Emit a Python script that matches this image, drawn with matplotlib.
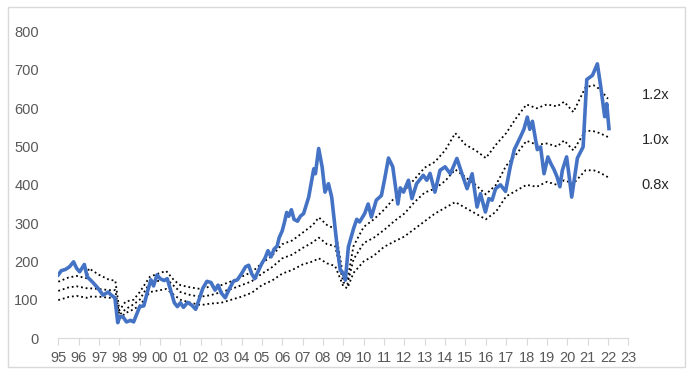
import matplotlib.pyplot as plt
from matplotlib.patches import Rectangle

# price series (x = year)
price_years = [
    1995.00, 1995.15, 1995.35, 1995.55, 1995.75, 1995.90, 1996.05, 1996.28, 1996.42, 1996.70,
    1996.95, 1997.20, 1997.45, 1997.60, 1997.78, 1997.92, 1998.02, 1998.18, 1998.35, 1998.55,
    1998.70, 1998.85, 1999.00, 1999.20, 1999.40, 1999.55, 1999.68, 1999.85, 2000.00, 2000.20,
    2000.35, 2000.50, 2000.70, 2000.85, 2001.00, 2001.15, 2001.35, 2001.55, 2001.75, 2001.90,
    2002.10, 2002.30, 2002.50, 2002.70, 2002.85, 2003.00, 2003.20, 2003.40, 2003.60, 2003.80,
    2004.00, 2004.20, 2004.35, 2004.50, 2004.65, 2004.85, 2005.00, 2005.15, 2005.30, 2005.45,
    2005.60, 2005.75, 2005.85, 2006.00, 2006.10, 2006.22, 2006.32, 2006.45, 2006.58, 2006.75,
    2006.89, 2007.05, 2007.30, 2007.55, 2007.63, 2007.79, 2007.96, 2008.10, 2008.27, 2008.43,
    2008.68, 2008.85, 2009.00, 2009.10, 2009.25, 2009.50, 2009.66, 2009.80, 2010.05, 2010.22,
    2010.38, 2010.62, 2010.87, 2011.03, 2011.22, 2011.43, 2011.68, 2011.80, 2011.96, 2012.20,
    2012.37, 2012.60, 2012.93, 2013.10, 2013.26, 2013.50, 2013.75, 2014.00, 2014.26, 2014.58,
    2014.83, 2015.08, 2015.33, 2015.57, 2015.74, 2015.98, 2016.15, 2016.31, 2016.48, 2016.72,
    2016.97, 2017.20, 2017.40, 2017.70, 2017.87, 2018.04, 2018.16, 2018.29, 2018.53, 2018.69,
    2018.86, 2019.05, 2019.20, 2019.35, 2019.50, 2019.64, 2019.76, 2019.97, 2020.12, 2020.22,
    2020.50, 2020.78, 2020.96, 2021.24, 2021.48, 2021.65, 2021.84, 2021.94, 2022.05,
]
price = [
    165, 176, 179, 186, 199, 182, 173, 192, 160, 145,
    130, 112, 120, 112, 105, 40, 56, 55, 42, 46,
    42, 62, 82, 84, 125, 152, 136, 165, 155, 150,
    155, 128, 92, 82, 92, 80, 93, 86, 75, 98,
    130, 148, 145, 125, 138, 118, 105, 128, 148, 152,
    168, 186, 190, 168, 155, 178, 195, 208, 228, 212,
    232, 240, 262, 280, 300, 328, 318, 335, 310, 305,
    318, 325, 368, 442, 429, 495, 447, 381, 403, 368,
    247, 177, 169, 151, 238, 285, 310, 303, 325, 350,
    316, 360, 372, 415, 470, 447, 350, 392, 381, 412,
    364, 403, 425, 412, 430, 381, 438, 447, 429, 469,
    429, 390, 429, 342, 377, 329, 364, 360, 390, 400,
    383, 447, 492, 525, 545, 577, 545, 566, 492, 499,
    429, 473, 455, 440, 421, 395, 438, 473, 412, 368,
    470, 499, 675, 686, 716, 655, 578, 612, 547,
]

# valuation bands
band_years = [
    1995.0, 1995.5, 1995.9, 1996.4, 1996.5, 1997.0, 1997.5, 1997.8, 1998.0, 1998.3,
    1998.7, 1999.0, 1999.5, 2000.0, 2000.3, 2000.7, 2001.0, 2001.5, 2002.0, 2002.5,
    2003.0, 2003.5, 2004.0, 2004.5, 2005.0, 2005.5, 2006.0, 2006.5, 2007.0, 2007.5,
    2007.8, 2008.2, 2008.6, 2009.0, 2009.2, 2009.5, 2010.0, 2010.5, 2011.0, 2011.5,
    2012.0, 2012.5, 2013.0, 2013.5, 2014.0, 2014.5, 2015.0, 2015.5, 2016.0, 2016.5,
    2017.0, 2017.5, 2018.0, 2018.5, 2019.0, 2019.5, 2019.85, 2020.3, 2020.9, 2021.3,
    2021.6, 2022.0,
]
band_12 = [
    147, 158, 162, 156, 182, 165, 152, 150, 72, 95,
    100, 120, 160, 170, 175, 150, 138, 132, 128, 135,
    138, 148, 160, 172, 195, 215, 245, 255, 275, 295,
    315, 295, 285, 160, 150, 240, 290, 310, 335, 365,
    385, 415, 445, 460, 490, 535, 505, 490, 470, 505,
    535, 575, 610, 600, 610, 605, 617, 590, 655, 660,
    650, 625,
]
band_10 = [
    123, 132, 135, 130, 130, 128, 125, 125, 60, 75,
    88, 100, 145, 150, 155, 135, 120, 112, 108, 112,
    120, 128, 138, 148, 168, 185, 208, 218, 235, 250,
    262, 245, 240, 145, 140, 205, 248, 262, 282, 305,
    325, 355, 380, 390, 410, 440, 420, 400, 375, 400,
    450, 480, 515, 505, 508, 500, 516, 490, 542, 540,
    535, 525,
]
band_08 = [
    99, 107, 110, 105, 108, 108, 105, 105, 50, 65,
    75, 85, 120, 125, 128, 112, 100, 92, 86, 90,
    92, 100, 108, 118, 138, 150, 168, 178, 192, 200,
    208, 195, 188, 135, 130, 170, 200, 215, 238, 252,
    265, 285, 305, 325, 340, 355, 340, 325, 310, 330,
    370, 385, 400, 395, 408, 400, 412, 403, 438, 438,
    432, 420,
]
band_labels = ['1.2x', '1.0x', '0.8x']
band_label_y = [634, 516, 399]

tick_years = list(range(1995, 2024))
tick_labels = [f'{y % 100:02d}' for y in tick_years]

plt.rcParams['font.family'] = ['Liberation Sans Narrow', 'Liberation Sans', 'DejaVu Sans']

fig = plt.figure(figsize=(6.92, 3.73), dpi=100)
fig.patches.append(Rectangle((8 / 692, 6 / 373), 677 / 692, 360 / 373, transform=fig.transFigure,
                             fill=False, edgecolor='#d9d9d9', linewidth=1.0))
ax = fig.add_axes([58.3 / 692, 35 / 373, 570 / 692, 306.3 / 373])

dot = (0, (1, 1.6))
for band in (band_12, band_10, band_08):
    ax.plot(band_years, band, color='black', linestyle=dot, linewidth=1.3)
ax.plot(price_years, price, color='#4472C4', linewidth=2.6, solid_joinstyle='round', zorder=3)

for lab, yv in zip(band_labels, band_label_y):
    ax.text(2023.65, yv, lab, fontsize=10.5, color='#262626', va='center', ha='left', clip_on=False)

ax.set_xlim(1995, 2023)
ax.set_ylim(0, 800)
ax.set_xticks(tick_years)
ax.set_xticklabels(tick_labels)
ax.set_yticks(range(0, 801, 100))
ax.tick_params(axis='x', length=5, color='#d9d9d9', labelsize=10.5, labelcolor='#595959', pad=4)
ax.tick_params(axis='y', length=0, labelsize=10.5, labelcolor='#595959', pad=14)

for side in ('top', 'right', 'left'):
    ax.spines[side].set_visible(False)
ax.spines['bottom'].set_color('#d9d9d9')

fig.savefig('out.png', dpi=100)
